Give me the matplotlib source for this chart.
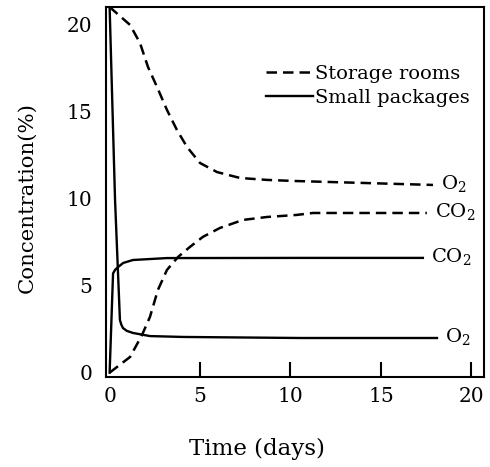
import matplotlib
matplotlib.use("Agg")
import matplotlib.pyplot as plt

plt.rcParams['font.family'] = ['DejaVu Serif']
plt.rcParams['mathtext.fontset'] = 'dejavuserif'

# storage rooms (dashed)
storage_o2_t = [0, 1.13, 1.68, 2.12, 2.62, 3.17, 3.72, 4.28, 5.0, 5.94, 7.21, 8.7, 10.14, 17.88]
storage_o2 = [21.0, 19.97, 18.93, 17.56, 16.41, 15.09, 13.94, 12.96, 12.04, 11.52, 11.18, 11.07, 11.01, 10.78]
storage_co2_t = [0, 1.13, 1.79, 2.23, 2.67, 3.17, 3.78, 4.44, 5.16, 6.1, 7.37, 8.7, 10.36, 11.24, 17.54]
storage_co2 = [0, 0.9, 2.16, 3.2, 4.75, 5.9, 6.64, 7.22, 7.8, 8.31, 8.77, 8.94, 9.06, 9.17, 9.17]

# small packages (solid)
small_o2_t = [0, 0.3, 0.57, 0.65, 0.74, 0.95, 1.29, 2.23, 4.06, 10.52, 18.1]
small_o2 = [21.0, 9.92, 3.02, 2.75, 2.56, 2.4, 2.28, 2.1, 2.05, 1.99, 1.99]
small_co2_t = [0, 0.19, 0.3, 0.45, 0.75, 1.29, 3.17, 10.52, 17.32]
small_co2 = [0, 5.7, 5.9, 6.05, 6.3, 6.47, 6.58, 6.59, 6.59]

xticks = [0, 5, 10, 15, 20]
yticks = [0, 5, 10, 15, 20]

fig = plt.figure(figsize=(4.9, 4.67), dpi=100)
ax = fig.add_axes([106 / 490, 90 / 467, 378 / 490, 370 / 467])

dash = (4.2, 2.4)
ax.plot(storage_o2_t, storage_o2, color='black', lw=1.8, dashes=dash, label='Storage rooms')
ax.plot(storage_co2_t, storage_co2, color='black', lw=1.8, dashes=dash)
ax.plot(small_o2_t, small_o2, color='black', lw=1.7, label='Small packages')
ax.plot(small_co2_t, small_co2, color='black', lw=1.7)

# gas labels at line ends
ends = [
    (storage_o2_t[-1], storage_o2[-1], 'O$_2$'),
    (storage_co2_t[-1], storage_co2[-1], 'CO$_2$'),
    (small_co2_t[-1], small_co2[-1], 'CO$_2$'),
    (small_o2_t[-1], small_o2[-1], 'O$_2$'),
]
for t, v, s in ends:
    ax.annotate(s, xy=(t, v), xytext=(6, 1), textcoords='offset points',
                ha='left', va='center', fontsize=14)

ax.set_xlim(-0.2, 20.7)
ax.set_ylim(-0.25, 21.0)
ax.set_xticks(xticks)
ax.set_yticks(yticks)
ax.tick_params(axis='x', direction='in', length=11, width=1.5, pad=7, labelsize=14.5)
ax.tick_params(axis='y', length=0, pad=10, labelsize=14.5)
# no tick mark at 0, only the label
ax.xaxis.get_major_ticks()[0].tick1line.set_visible(False)

for sp in ax.spines.values():
    sp.set_linewidth(1.5)

ax.set_xlabel('Time (days)', fontsize=16.5, va='top')
ax.xaxis.set_label_coords(0.40, -0.165)
ax.set_ylabel('Concentration(%)', fontsize=15.3)
ax.yaxis.set_label_coords(-0.183, 0.486)

ax.legend(loc='upper right', bbox_to_anchor=(0.988, 0.87), frameon=False,
          borderpad=0, handlelength=2.4, handletextpad=0.1, labelspacing=0.3,
          fontsize=14)

fig.savefig('out.png', dpi=100)
